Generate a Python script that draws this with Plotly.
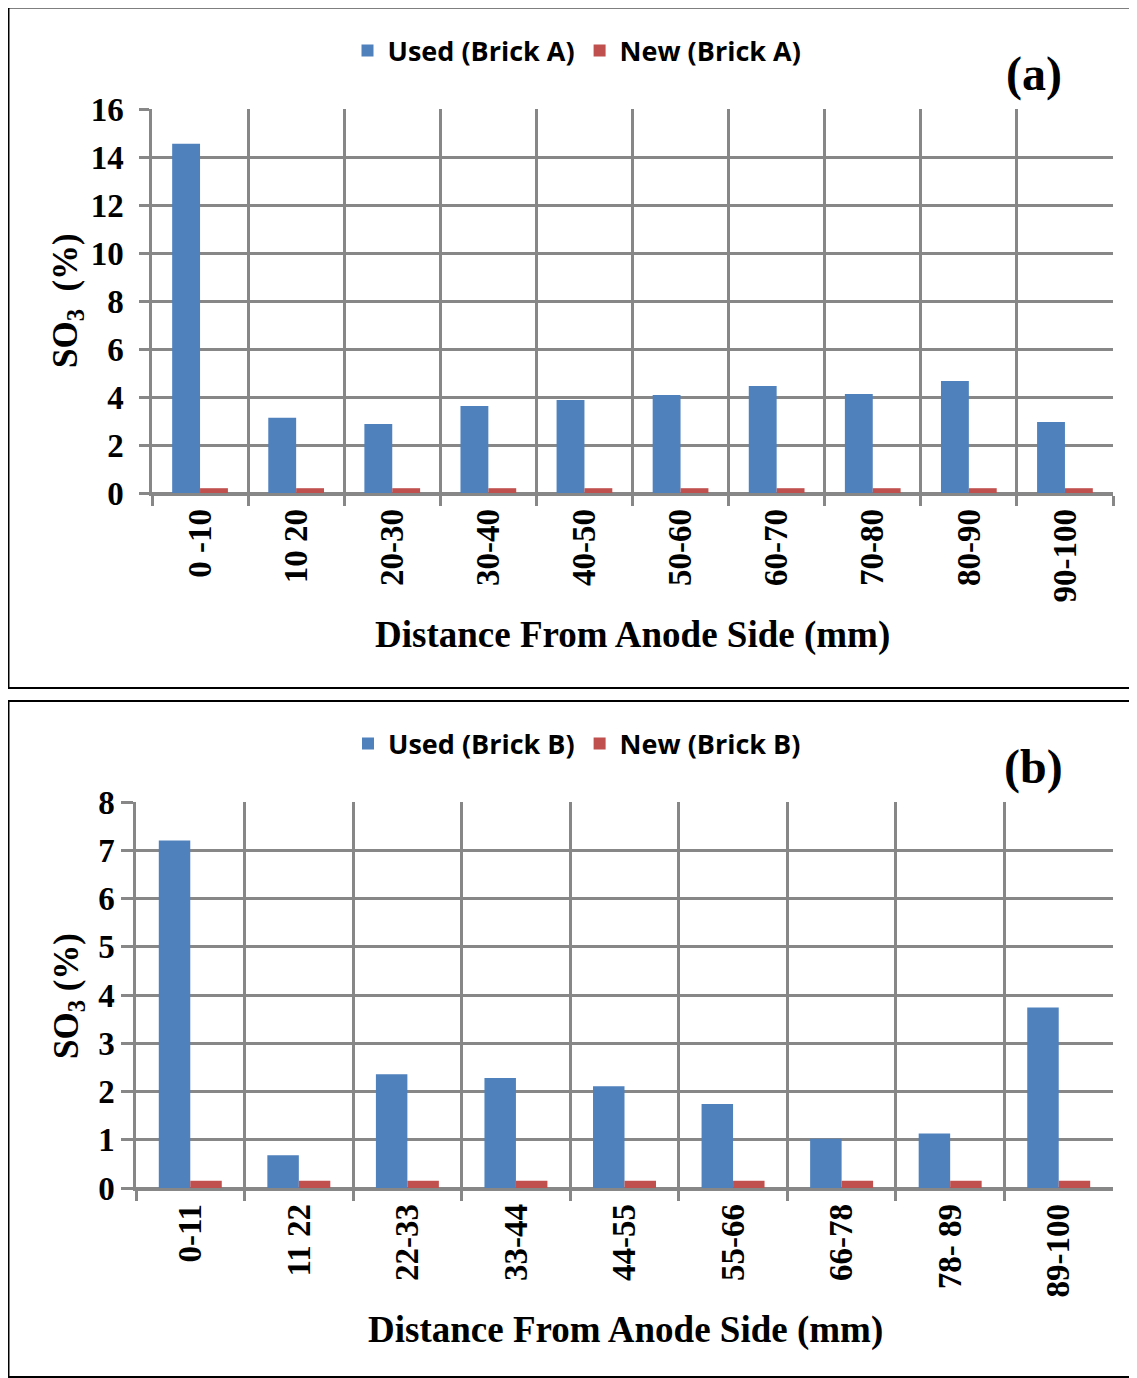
import plotly.graph_objects as go

# page body has an 8px margin, so the figure is drawn 8px in from the top-left corner
OFF = 8
W, H = 1137 - OFF, 1378 - OFF

cats_a = ["0 -10", "10 20", "20-30", "30-40", "40-50", "50-60", "60-70", "70-80", "80-90", "90-100"]
used_a = [14.55, 3.14, 2.88, 3.63, 3.88, 4.08, 4.46, 4.12, 4.67, 2.96]
new_a = [0.2, 0.2, 0.2, 0.2, 0.2, 0.2, 0.2, 0.2, 0.2, 0.2]

cats_b = ["0-11", "11 22", "22-33", "33-44", "44-55", "55-66", "66-78", "78- 89", "89-100"]
used_b = [7.2, 0.68, 2.36, 2.28, 2.11, 1.74, 1.02, 1.13, 3.74]
new_b = [0.15, 0.15, 0.15, 0.15, 0.15, 0.15, 0.15, 0.15, 0.15]

BLUE = "#4F81BD"
RED = "#C0504D"
GRID = "#878787"
SERIF = "Liberation Serif, Times New Roman, serif"
SANS = "Open Sans, Liberation Sans, sans-serif"


def fx(px):
    return (px - OFF) / W


def fy(py):
    return 1 - (py - OFF) / H


fig = go.Figure()
fig.add_trace(go.Bar(x=cats_a, y=used_a, name="Used (Brick A)", marker=dict(color=BLUE, line=dict(width=0)),
                     xaxis="x", yaxis="y", legend="legend"))
fig.add_trace(go.Bar(x=cats_a, y=new_a, name="New (Brick A)", marker=dict(color=RED, line=dict(width=0)),
                     xaxis="x", yaxis="y", legend="legend"))
fig.add_trace(go.Bar(x=cats_b, y=used_b, name="Used (Brick B)", marker=dict(color=BLUE, line=dict(width=0)),
                     xaxis="x2", yaxis="y2", legend="legend2"))
fig.add_trace(go.Bar(x=cats_b, y=new_b, name="New (Brick B)", marker=dict(color=RED, line=dict(width=0)),
                     xaxis="x2", yaxis="y2", legend="legend2"))

tickfont = dict(family=SERIF, size=33, color="black", weight="bold")

xcommon = dict(type="category", tickson="boundaries", showgrid=True, gridcolor=GRID, gridwidth=2.5,
               ticks="outside", ticklen=10, tickwidth=2.5, tickcolor=GRID, tickangle=-90,
               tickfont=tickfont, showline=True, linecolor=GRID, linewidth=2.5, automargin=False,
               fixedrange=True)
ycommon = dict(showgrid=True, gridcolor=GRID, gridwidth=2.5, ticks="outside", tickwidth=2.5,
               tickcolor=GRID, tickfont=tickfont, zeroline=True, zerolinecolor=GRID, zerolinewidth=2.5,
               showline=True, linecolor=GRID, linewidth=2.5, automargin=False)

legfont = dict(family=SANS, size=27, color="black", weight="bold")
titlefont = dict(family=SERIF, size=37, color="black", weight="bold")
yfont = dict(family=SERIF, size=35, color="black", weight="bold")
labfont = dict(family=SERIF, size=48, color="black", weight="bold")

fig.update_layout(
    width=W, height=H,
    margin=dict(l=0, r=0, t=0, b=0),
    paper_bgcolor="white", plot_bgcolor="white",
    barmode="group", bargap=0.42, bargroupgap=0,
    xaxis=dict(domain=[fx(152), fx(1113)], anchor="y", **xcommon),
    yaxis=dict(domain=[fy(493), fy(109)], anchor="x", range=[0, 16], dtick=2, ticklen=10,
               ticklabelstandoff=9, **ycommon),
    xaxis2=dict(domain=[fx(136), fx(1113)], anchor="y2", **xcommon),
    yaxis2=dict(domain=[fy(1188), fy(802)], anchor="x2", range=[0, 8], dtick=1, ticklen=12,
                ticklabelstandoff=0, **ycommon),
    legend=dict(orientation="h", x=fx(577), xanchor="center", y=fy(51), yanchor="middle",
                font=legfont, bgcolor="rgba(0,0,0,0)"),
    legend2=dict(orientation="h", x=fx(577), xanchor="center", y=fy(744), yanchor="middle",
                 font=legfont, bgcolor="rgba(0,0,0,0)"),
    shapes=[
        dict(type="rect", xref="paper", yref="paper", x0=fx(8.5), x1=fx(1142), y0=fy(688), y1=fy(7.5),
             line=dict(color="black", width=2)),
        dict(type="rect", xref="paper", yref="paper", x0=fx(8.5), x1=fx(1142), y0=fy(1377), y1=fy(701),
             line=dict(color="black", width=2)),
    ],
    annotations=[
        dict(text="(a)", x=fx(1034), y=fy(74), xref="paper", yref="paper", showarrow=False,
             xanchor="center", yanchor="middle", font=labfont),
        dict(text="(b)", x=fx(1033), y=fy(767), xref="paper", yref="paper", showarrow=False,
             xanchor="center", yanchor="middle", font=labfont),
        dict(text="Distance From Anode Side (mm)", x=fx(632), y=fy(635), xref="paper", yref="paper",
             showarrow=False, xanchor="center", yanchor="middle", font=titlefont),
        dict(text="Distance From Anode Side (mm)", x=fx(625), y=fy(1330), xref="paper", yref="paper",
             showarrow=False, xanchor="center", yanchor="middle", font=titlefont),
        dict(text="SO<sub>3</sub>  (%)", x=fx(68), y=fy(301), xref="paper", yref="paper", textangle=-90,
             showarrow=False, xanchor="center", yanchor="middle", font=yfont),
        dict(text="SO<sub>3</sub> (%)", x=fx(68), y=fy(996), xref="paper", yref="paper", textangle=-90,
             showarrow=False, xanchor="center", yanchor="middle", font=yfont),
    ],
)

fig.write_html("out.html")
